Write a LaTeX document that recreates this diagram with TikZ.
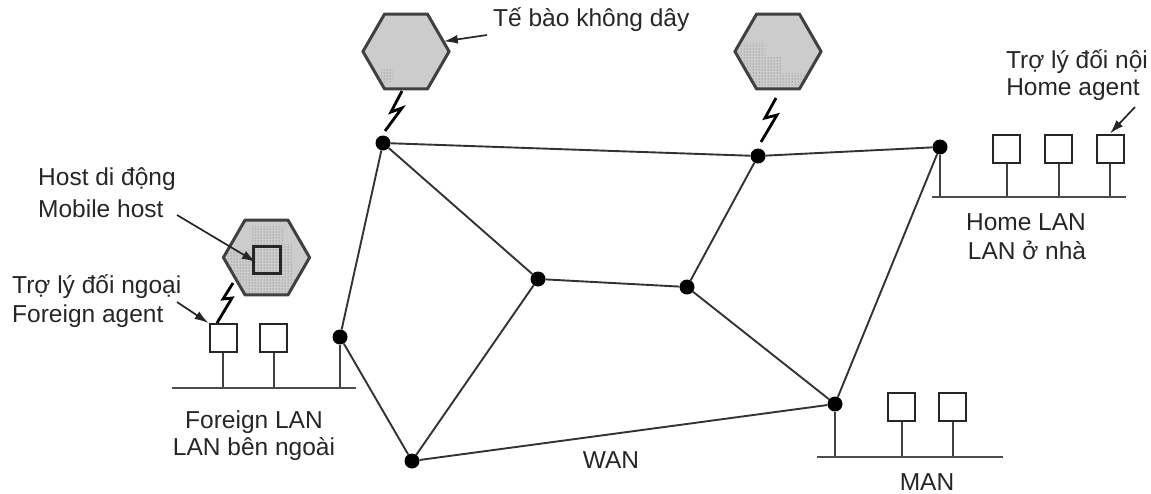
\documentclass[tikz,border=0pt]{standalone}
\usepackage{fontspec}
\setmainfont{Liberation Sans}
\usetikzlibrary{arrows.meta,shapes.geometric,patterns}
\begin{document}
\begin{tikzpicture}[x=1pt,y=-1pt,
  every node/.style={font=\fontsize{24.5}{28}\selectfont},
  router/.style={circle,fill=black,inner sep=0pt,minimum size=15pt},
  link/.style={line width=1.9pt,draw=black!80},
  cell/.style={regular polygon,regular polygon sides=6,draw=black!75,line width=2pt,fill=gray!40,inner sep=0pt,minimum size=85pt},
  hostbox/.style={rectangle,draw=black!85,line width=2pt,fill=white,inner sep=0pt,minimum width=27pt,minimum height=28pt},
  bus/.style={line width=2.6pt,draw=black!70},
  stem/.style={line width=2pt,draw=black!75},
  bolt/.style={line width=2.8pt,line join=miter},
  stipple/.style={pattern=dots,pattern color=gray!75!black},
  pointer/.style={line width=1.7pt,draw=black!85,-{Latex[length=14pt,width=9pt]}},
  label/.style={anchor=base,inner sep=0pt,text=black!85}]
\useasboundingbox (0,0) rectangle (1151,493);

% wireless cells
\node[cell] (cellA) at (406,51.5) {};
\node[cell] (cellB) at (778,51.5) {};
\node[cell] (cellM) at (266.5,257.5) {};

% stippled shading inside the cells
\begin{scope}
  \clip (cellA.corner 1) -- (cellA.corner 2) -- (cellA.corner 3) -- (cellA.corner 4) -- (cellA.corner 5) -- (cellA.corner 6) -- cycle;
  \fill[stipple] (381,68) rectangle (393,81);
\end{scope}
\begin{scope}
  \clip (cellB.corner 1) -- (cellB.corner 2) -- (cellB.corner 3) -- (cellB.corner 4) -- (cellB.corner 5) -- (cellB.corner 6) -- cycle;
  \fill[stipple] (730,43) -- (765,43) -- (765,57) -- (782,57) -- (782,73) -- (808,73) -- (808,95) -- (730,95) -- cycle;
\end{scope}
\begin{scope}
  \clip (cellM.corner 1) -- (cellM.corner 2) -- (cellM.corner 3) -- (cellM.corner 4) -- (cellM.corner 5) -- (cellM.corner 6) -- cycle;
  \fill[stipple] (220,250) -- (252,250) -- (252,226) -- (283,226) -- (283,244) -- (292,244) -- (292,279) -- (300,279) -- (300,300) -- (220,300) -- cycle;
\end{scope}
\foreach \c in {cellA,cellB,cellM}
  \draw[draw=black!75,line width=2pt,line join=round] (\c.corner 1) -- (\c.corner 2) -- (\c.corner 3) -- (\c.corner 4) -- (\c.corner 5) -- (\c.corner 6) -- cycle;

\node[rectangle,draw=black!85,line width=2.2pt,inner sep=0pt,minimum size=27pt] (mobile) at (267,260) {};

% WAN routers
\node[router] (A) at (383,143) {};
\node[router] (B) at (758,156) {};
\node[router] (C) at (940,147) {};
\node[router] (D) at (538,279) {};
\node[router] (E) at (687,287) {};
\node[router] (F) at (340,337) {};
\node[router] (G) at (412,461) {};
\node[router] (H) at (835,404) {};

\draw[link] (A) -- (B) -- (C);
\draw[link] (A) -- (F) -- (G);
\draw[link] (A) -- (D) -- (E) -- (B);
\draw[link] (D) -- (G) -- (H) -- (C);
\draw[link] (E) -- (H);

% radio links
\draw[bolt] (402,91) -- (391,112) -- (402,108) -- (385,131);
\draw[bolt] (776,98) -- (765,118) -- (777,115) -- (761,142);
\draw[bolt] (233,283) -- (223,299) -- (232,298) -- (217,323);

% foreign LAN
\coordinate (fbL) at (172,388);
\coordinate (fbR) at (356,388);
\node[hostbox] (fa) at (223,338) {};
\node[hostbox] (f2) at (273.5,338) {};
\draw[stem] (fa.south) -- (fa.south |- fbL);
\draw[stem] (f2.south) -- (f2.south |- fbL);
\draw[stem] (F) -- (F |- fbL);
\draw[bus] (fbL) -- (fbR);

% home LAN
\coordinate (hbL) at (932,197);
\coordinate (hbR) at (1126,197);
\node[hostbox] (h1) at (1006.5,148.5) {};
\node[hostbox] (h2) at (1058.5,148.5) {};
\node[hostbox] (ha) at (1110,148.5) {};
\draw[stem] (h1.south) -- (h1.south |- hbL);
\draw[stem] (h2.south) -- (h2.south |- hbL);
\draw[stem] (ha.south) -- (ha.south |- hbL);
\draw[stem] (C) -- (C |- hbL);
\draw[bus] (hbL) -- (hbR);

% MAN
\coordinate (mbL) at (817,457);
\coordinate (mbR) at (1003,457);
\node[hostbox] (m1) at (901.5,407) {};
\node[hostbox] (m2) at (952.5,407) {};
\draw[stem] (m1.south) -- (m1.south |- mbL);
\draw[stem] (m2.south) -- (m2.south |- mbL);
\draw[stem] (H) -- (H |- mbL);
\draw[bus] (mbL) -- (mbR);

% labels
\node[label,anchor=base west] (tcell) at (493,26) {Tế bào không dây};
\node[label,anchor=base west] (tmob1) at (38,185) {Host di động};
\node[label,anchor=base west] (tmob2) at (38,217) {Mobile host};
\node[label,anchor=base west] (tfa1) at (12,293) {Trợ lý đối ngoại};
\node[label,anchor=base west] (tfa2) at (12,322) {Foreign agent};
\node[label] (tflan1) at (254,428) {Foreign LAN};
\node[label] (tflan2) at (254,455) {LAN bên ngoài};
\node[label] (tha1) at (1077,68) {Trợ lý đối nội};
\node[label] (tha2) at (1073,95) {Home agent};
\node[label] (thlan1) at (1026,230) {Home LAN};
\node[label] (thlan2) at (1027,259) {LAN ở nhà};
\node[label] (twan) at (611,468) {WAN};
\node[label] (tman) at (927,490) {MAN};

% pointers
\coordinate (pcell) at (487,35);
\draw[pointer] (pcell) -- (cellA.15);
\coordinate (pmob) at (177,215);
\draw[pointer,shorten >=-4pt] (pmob) -- (mobile.west);
\coordinate (pfa) at (177,302);
\draw[pointer] (pfa) -- (fa.north west);
\coordinate (pha) at (1135,107);
\draw[pointer] (pha) -- (ha.north);
\end{tikzpicture}
\end{document}
